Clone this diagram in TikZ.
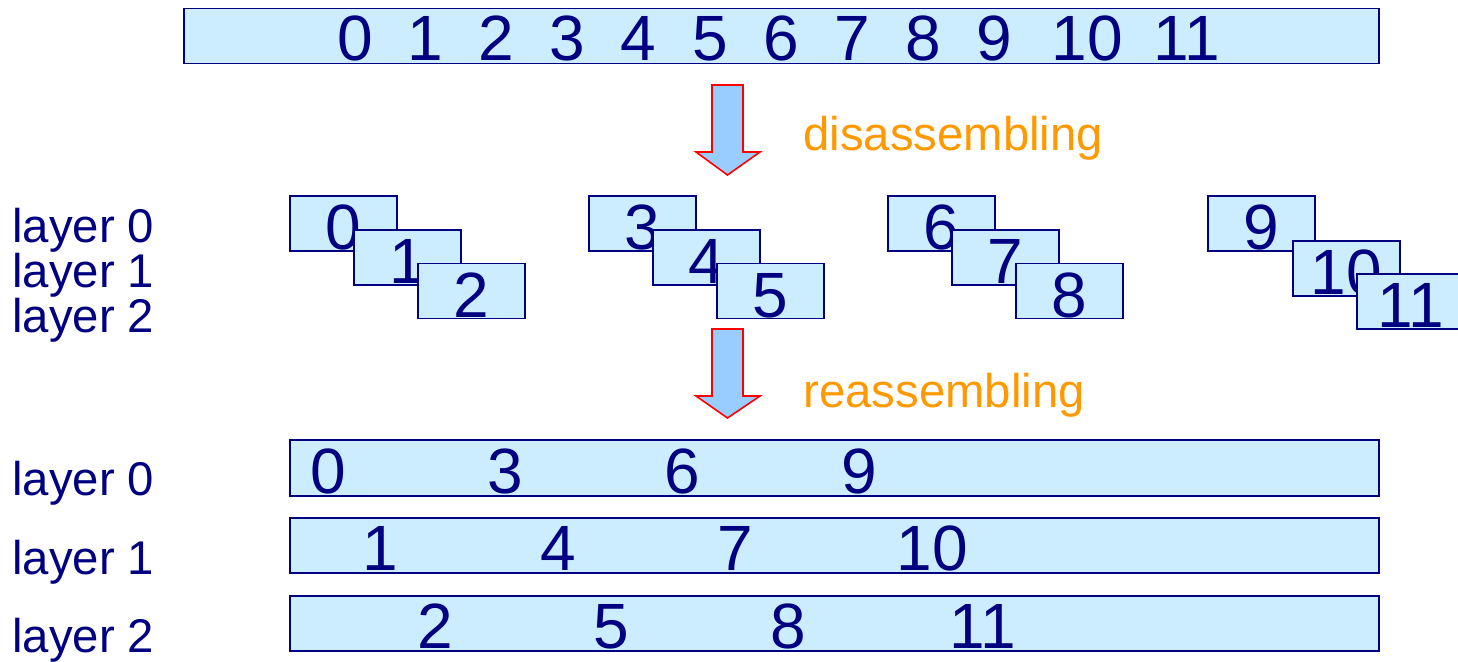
\documentclass[tikz,border=0pt]{standalone}
\usepackage{fontspec}
\setmainfont{Liberation Sans}
\usetikzlibrary{calc}
\definecolor{navy}{HTML}{000080}
\definecolor{cellfill}{HTML}{CCECFF}
\definecolor{arrfill}{HTML}{99CCFF}
\definecolor{orng}{HTML}{FF9900}
\begin{document}
\begin{tikzpicture}[x=0.75pt,y=-0.75pt,
  cell/.style={draw=navy,fill=cellfill,line width=1.2pt,inner sep=0pt,outer sep=0pt,
    minimum width=80.25pt,minimum height=41.25pt,anchor=north west},
  bar/.style={cell,minimum width={1089*0.75pt},minimum height={56*0.75pt}},
  digit/.style={text=navy,font=\fontsize{48}{56}\selectfont,inner sep=0pt,anchor=base},
  lab/.style={text=navy,font=\fontsize{35.5}{42}\selectfont,inner sep=0pt,anchor=base west},
  act/.style={text=orng,font=\fontsize{35.5}{42}\selectfont,inner sep=0pt,anchor=base west},
  blockarrow/.style={draw=red,fill=arrfill,line width=1.2pt,line join=miter}]
\useasboundingbox (0,0) rectangle (1458,661);

% top bar
\node[cell,minimum width={1195*0.75pt},minimum height={55*0.75pt}] (top) at (184,8.5) {};
\foreach \x/\t in {355/0,425/1,496/2,567/3,638/4,710/5,781/6,852/7,923/8,994/9,1087/10,1187/11}
  \node[digit] (t\t) at (\x,60) {\t};

% arrow 1
\draw[blockarrow] (712,85) -- (743,85) -- (743,152) -- (760,152) -- (727.5,175) -- (696,152) -- (712,152) -- cycle;
\node[act] (dis) at (803,150) {disassembling};

% middle groups
\node[lab] (l0) at (12,242) {layer 0};
\node[lab] (l1) at (12,287) {layer 1};
\node[lab] (l2) at (12,332) {layer 2};
\foreach \gx/\a/\b/\c in {290/0/1/2,589/3/4/5,888/6/7/8}{
  \node[cell] (m\a) at (\gx,196) {};
  \node[digit] (d\a) at ($(m\a.south)+(0,-1.5)$) {\a};
  \node[cell] (m\b) at (\gx+64,230) {};
  \node[digit] (d\b) at ($(m\b.south)+(0,-1.5)$) {\b};
  \node[cell] (m\c) at (\gx+128,263.5) {};
  \node[digit] (d\c) at ($(m\c.south)+(0,-1.5)$) {\c};
}
\node[cell] (m9) at (1208,196) {};
\node[digit] (d9) at ($(m9.south)+(0,-1.5)$) {9};
\node[cell] (m10) at (1293,241) {};
\node[digit] (d10) at ($(m10.south)+(0,-1.5)$) {10};
\node[cell] (m11) at (1357,274) {};
\node[digit] (d11) at ($(m11.south)+(0,-1.5)$) {11};

% arrow 2
\draw[blockarrow] (712,329) -- (743,329) -- (743,396) -- (760,396) -- (727.5,418) -- (696,396) -- (712,396) -- cycle;
\node[act] (re) at (803,407) {reassembling};

% bottom bars
\node[lab] (b0l) at (12,495) {layer 0};
\node[lab] (b1l) at (12,574) {layer 1};
\node[lab] (b2l) at (12,652) {layer 2};
\node[bar] (r0) at (290,440) {};
\node[bar,minimum height={55*0.75pt}] (r1) at (290,518) {};
\node[bar,minimum height={55*0.75pt}] (r2) at (290,596) {};
\foreach \x/\t in {328/0,505/3,682/6,859/9} \node[digit] (r0\t) at (\x,493) {\t};
\foreach \x/\t in {380/1,558/4,735/7,932/10} \node[digit] (r1\t) at (\x,570) {\t};
\foreach \x/\t in {435/2,611/5,788/8,983/11} \node[digit] (r2\t) at (\x,648) {\t};
\end{tikzpicture}
\end{document}
